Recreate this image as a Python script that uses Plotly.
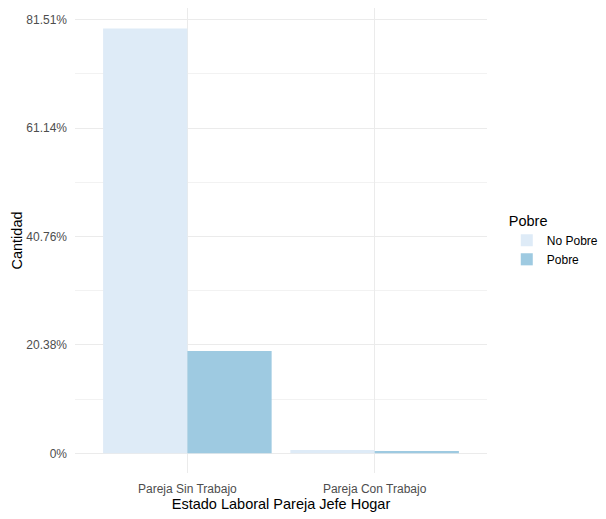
import plotly.graph_objects as go

categorias = ["Pareja Sin Trabajo", "Pareja Con Trabajo"]
no_pobre = [79.85, 0.62]
pobre = [19.25, 0.43]
tick_vals = [0, 20.38, 40.76, 61.14, 81.51]
tick_text = ["0%", "20.38%", "40.76%", "61.14%", "81.51%"]
minor_vals = [10.19, 30.57, 50.95, 71.33]

fig = go.Figure()
fig.add_trace(go.Bar(x=categorias, y=no_pobre, name="No Pobre", marker=dict(color="#DEEBF7", line=dict(width=0))))
fig.add_trace(go.Bar(x=categorias, y=pobre, name="Pobre", marker=dict(color="#9ECAE1", line=dict(width=0))))

# page body has an 8px margin, so the figure is a bit smaller than the window
fig.update_layout(
    width=598, height=511,
    barmode="group", bargap=0.1, bargroupgap=0,
    plot_bgcolor="white", paper_bgcolor="white",
    margin=dict(l=67, r=119, t=0, b=46, autoexpand=False),
    font=dict(family="Liberation Sans, Arial, sans-serif", color="#000000"),
    legend=dict(
        title=dict(text="Pobre", font=dict(size=14.5, color="#000000")),
        font=dict(size=12, color="#000000"),
        x=1.048, xanchor="left", y=0.5, yanchor="middle",
        itemwidth=30, tracegroupgap=0,
    ),
)
fig.update_xaxes(
    title=dict(text="Estado Laboral Pareja Jefe Hogar", font=dict(size=14.5, color="#000000"), standoff=3),
    tickfont=dict(size=12, color="#4D4D4D"), automargin=False,
    range=[-0.6, 1.6], showgrid=True, gridcolor="#EBEBEB", gridwidth=1,
    zeroline=False, showline=False, ticks="outside", ticklen=5, tickcolor="rgba(0,0,0,0)",
)
fig.update_yaxes(
    title=dict(text="Cantidad", font=dict(size=14.5, color="#000000"), standoff=0),
    tickfont=dict(size=12, color="#4D4D4D"), automargin=False, ticklabelstandoff=7,
    tickvals=tick_vals, ticktext=tick_text,
    range=[-3.7, 83.7], showgrid=True, gridcolor="#EBEBEB", gridwidth=1,
    minor=dict(tickvals=minor_vals, showgrid=True, gridcolor="#F2F2F2", gridwidth=1),
    zeroline=False, showline=False, ticks="",
)

fig.write_html("out.html")
